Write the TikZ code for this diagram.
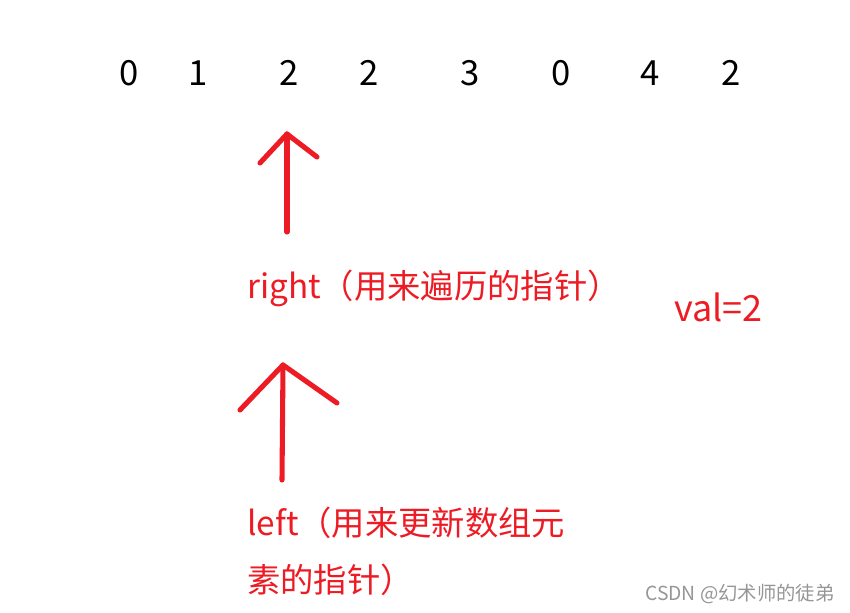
\documentclass[tikz,border=0pt]{standalone}
\usepackage{fontspec}
\newfontfamily\cjkfont{Noto Sans CJK SC}
\definecolor{penred}{RGB}{237,28,36}
\definecolor{markgray}{RGB}{150,150,150}

\tikzset{
  numtext/.style={font=\cjkfont\fontsize{26}{30}\selectfont, inner sep=0pt},
  redtext/.style={font=\cjkfont\fontsize{25}{30}\selectfont, text=penred, inner sep=0pt, anchor=west},
  penline/.style={draw=penred, line width=3.8pt, line cap=round, line join=round}
}

\begin{document}
\begin{tikzpicture}[x=0.75pt,y=-0.75pt]
    \useasboundingbox[fill=white] (0,0) rectangle (850,613);
    % the array
    \foreach \v/\x [count=\i] in {0/129,1/198,2/289,2/369,3/470,0/561,4/650,2/731}
        \node[numtext] (d\i) at (\x,73) {\v};
    % right pointer
    \coordinate (rtip) at (287,134);
    \coordinate (rfoot) at (287,232);
    \draw[penline] (rfoot) -- (rtip);
    \draw[penline] (260,163) -- (rtip) -- (317,157);
    \node[redtext] (rlabel) at (247,288) {right（用来遍历的指针）};
    \node[redtext, font=\cjkfont\fontsize{27}{30}\selectfont] (val) at (674,307) {val=2};
    % left pointer
    \coordinate (ltip) at (283,365);
    \coordinate (lfoot) at (282,480);
    \draw[penline] (lfoot) -- (ltip);
    \draw[penline] (240,410) -- (ltip) -- (337,403);
    \node[redtext] (llabel) at (247,523) {left（用来更新数组元};
    \node[redtext] (llabel2) at (247,580) {素的指针）};
    \node[anchor=west, inner sep=0pt, text=markgray, font=\cjkfont\fontsize{14.5}{16}\selectfont] (mark) at (645,594) {CSDN @幻术师的徒弟};
\end{tikzpicture}
\end{document}
